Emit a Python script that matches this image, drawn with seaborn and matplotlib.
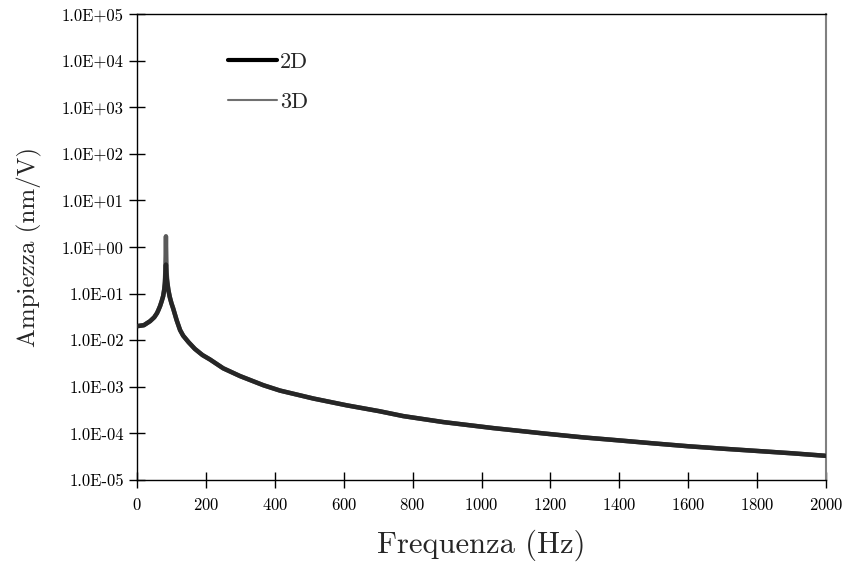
import matplotlib
matplotlib.use("Agg")
import matplotlib.pyplot as plt
import seaborn as sns
import pandas as pd
from matplotlib.ticker import FixedLocator, FixedFormatter

freq = [0, 20, 38, 50, 58, 62, 67, 72, 76, 79, 81, 82, 83, 84, 85, 86, 88, 91,
        95, 100, 105, 115, 125, 134, 150, 168, 190, 212, 250, 299, 367, 415,
        512, 609, 703, 773, 889, 1034, 1179, 1296, 1397, 1500, 1600, 1700,
        1800, 1900, 2000]
amp_2d = [0.020, 0.021, 0.0256, 0.031, 0.038, 0.044, 0.054, 0.070, 0.088, 0.12,
          0.16, 0.22, 0.32, 0.42, 0.30, 0.22, 0.17, 0.12, 0.085, 0.062, 0.048,
          0.027, 0.0165, 0.0125, 0.009, 0.0065, 0.0048, 0.00385, 0.0025,
          0.0017, 0.00108, 0.00083, 0.00056, 0.00040, 0.000300, 0.000235,
          0.000175, 0.000130, 0.000100, 0.000082, 0.000071, 0.000061,
          0.000053, 0.000047, 0.000042, 0.0000375, 0.000033]
amp_3d = [0.020, 0.021, 0.0256, 0.031, 0.038, 0.044, 0.054, 0.070, 0.09, 0.125,
          0.18, 0.28, 0.6, 1.7, 0.6, 0.28, 0.18, 0.12, 0.085, 0.062, 0.048,
          0.027, 0.0165, 0.0125, 0.009, 0.0065, 0.0048, 0.00385, 0.0025,
          0.0017, 0.00108, 0.00083, 0.00056, 0.00040, 0.000300, 0.000235,
          0.000175, 0.000130, 0.000100, 0.000082, 0.000071, 0.000061,
          0.000053, 0.000047, 0.000042, 0.0000375, 0.000033]
y_ticks = [1e-5, 1e-4, 1e-3, 1e-2, 1e-1, 1e0, 1e1, 1e2, 1e3, 1e4, 1e5]
y_labels = ["1.0E-05", "1.0E-04", "1.0E-03", "1.0E-02", "1.0E-01", "1.0E+00",
            "1.0E+01", "1.0E+02", "1.0E+03", "1.0E+04", "1.0E+05"]
x_ticks = [0, 200, 400, 600, 800, 1000, 1200, 1400, 1600, 1800, 2000]

sns.set_style("ticks")
plt.rcParams['font.family'] = ['cmr10', 'DejaVu Serif']
plt.rcParams['mathtext.fontset'] = 'cm'
plt.rcParams['axes.formatter.use_mathtext'] = True

df2 = pd.DataFrame({"f": freq, "a": amp_2d})
df3 = pd.DataFrame({"f": freq, "a": amp_3d})

fig = plt.figure(figsize=(8.46, 5.68), dpi=100)
ax = fig.add_axes([137/846, 1-480/568, 689/846, 466/568])

sns.lineplot(data=df3, x="f", y="a", color="#5a5a5a", lw=3.2, ax=ax,
             legend=False, zorder=2)
sns.lineplot(data=df2, x="f", y="a", color="#262626", lw=3.2, ax=ax,
             legend=False, zorder=3)

h2, = ax.plot([], [], color="black", lw=3.0, label="2D")
h3, = ax.plot([], [], color="#707070", lw=1.5, label="3D")

ax.set_yscale("log")
ax.set_xlim(0, 2000)
ax.set_ylim(1e-5, 1e5)
ax.yaxis.set_major_locator(FixedLocator(y_ticks))
ax.yaxis.set_major_formatter(FixedFormatter(y_labels))
ax.yaxis.set_minor_locator(FixedLocator([]))
ax.xaxis.set_major_locator(FixedLocator(x_ticks))
ax.tick_params(axis="both", direction="inout", length=11, width=1.0,
               labelsize=12, colors="black")
ax.tick_params(axis="x", pad=7)
ax.tick_params(axis="y", pad=4)

for sp in ["left", "bottom", "top"]:
    ax.spines[sp].set_visible(True)
    ax.spines[sp].set_color("black")
    ax.spines[sp].set_linewidth(1.0)
ax.spines["right"].set_visible(True)
ax.spines["right"].set_color("#808080")
ax.spines["right"].set_linewidth(1.5)

ax.set_xlabel("Frequenza (Hz)", fontsize=22, labelpad=12)
ax.set_ylabel("Ampiezza (nm/V)", fontsize=18, labelpad=14)

leg = ax.legend(handles=[h2, h3], loc="upper left",
                bbox_to_anchor=(0.103, 0.96), frameon=False,
                fontsize=16, handlelength=2.2, handletextpad=0.15,
                labelspacing=0.9)

fig.savefig("out.png", dpi=100)
